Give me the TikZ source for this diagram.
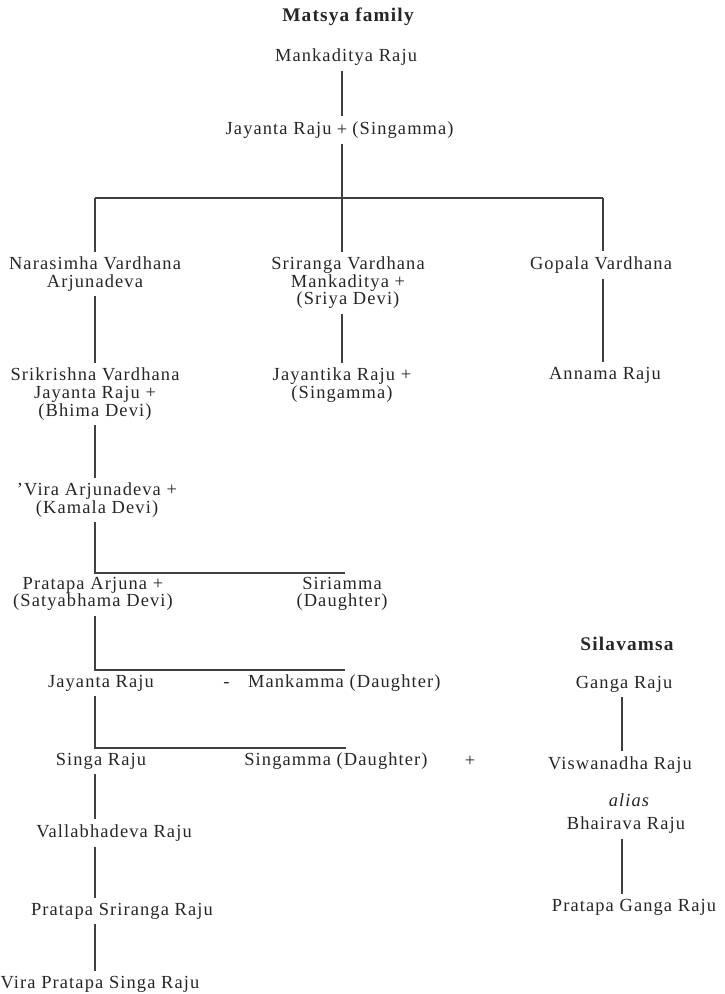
\documentclass[tikz,border=0pt]{standalone}
\usepackage{fontspec}
\setmainfont{Liberation Serif}[LetterSpace=6]
\usetikzlibrary{calc}
\tikzstyle{person}=[inner sep=0pt,outer sep=3pt,align=center,text=black!85,font=\fontsize{10.5}{10}\selectfont]
\tikzstyle{house}=[person,font=\fontsize{11}{12}\selectfont\bfseries]
\tikzstyle{kin}=[line width=0.75pt,black!75]
\newcommand{\drawdescent}[3]{
\draw[kin] (#1.south -| #3) -- (#2.north -| #3);
}

\begin{document}
\begin{tikzpicture}[x=0.02cm,y=-0.02cm]
\useasboundingbox (0,0) rectangle (724,994);
% Matsya family
\node[house] (matsya) at (348,17) {Matsya family};
\node[person] (mank) at (346,57) {Mankaditya Raju};
\node[person,text height=8pt,text depth=2pt] (jay) at (342,130) {+};
\node[person,anchor=east,outer sep=0pt] (jayname) at (jay.west) {Jayanta Raju};
\node[person,anchor=west,outer sep=0pt] (jaywife) at (jay.east) {(Singamma)};
\coordinate (b1l) at (95,198);
\coordinate (trunk) at (342,198);
\coordinate (b1r) at (603,198);
\draw[kin] (mank.south -| jay) -- (jay.north);
\draw[kin] (jay.south) -- (trunk);
\draw[kin] (b1l) -- (b1r);
% three sons
\node[person] (nara) at (95,274) {Narasimha Vardhana\\Arjunadeva};
\node[person] (sri) at (348,283) {Sriranga Vardhana\\Mankaditya +\\(Sriya Devi)};
\node[person] (gop) at (601,265) {Gopala Vardhana};
\draw[kin] (b1l) -- (nara.north -| b1l);
\draw[kin] (trunk) -- (sri.north -| trunk);
\draw[kin] (b1r) -- (gop.north -| b1r);
\node[person] (srik) at (95,394) {Srikrishna Vardhana\\Jayanta Raju +\\(Bhima Devi)};
\node[person] (jayk) at (342,385) {Jayantika Raju +\\(Singamma)};
\node[person] (ann) at (605,375) {Annama Raju};
\drawdescent{nara}{srik}{b1l}
\drawdescent{sri}{jayk}{trunk}
\drawdescent{gop}{ann}{b1r}
% main line
\node[person] (vira) at (97,500) {'Vira Arjunadeva +\\(Kamala Devi)};
\drawdescent{srik}{vira}{b1l}
\coordinate (b2l) at (95,573);
\coordinate (b2r) at (345,573);
\node[person] (prat) at (93,594) {Pratapa Arjuna +\\(Satyabhama Devi)};
\node[person] (siri) at (342,594) {Siriamma\\(Daughter)};
\draw[kin] (vira.south -| b2l) -- (b2l) -- (b2r);
\coordinate (b3l) at (95,670);
\coordinate (b3r) at (345,670);
\node[person] (jayr) at (101,683) {Jayanta Raju};
\node[person] (mankamma) at (332,683) {-\quad Mankamma (Daughter)};
\draw[kin] (prat.south -| b3l) -- (b3l) -- (b3r);
\coordinate (b4l) at (95,748);
\coordinate (b4r) at (346,748);
\node[person] (singa) at (101,761) {Singa Raju};
\node[person] (singamma) at (336,761) {Singamma (Daughter)};
\node[person] (splus) at (470,761) {+};
\draw[kin] (jayr.south -| b4l) -- (b4l) -- (b4r);
\node[person] (vall) at (114,833) {Vallabhadeva Raju};
\node[person] (pss) at (122,911) {Pratapa Sriranga Raju};
\node[person] (vps) at (100,984) {Vira Pratapa Singa Raju};
\drawdescent{singa}{vall}{b4l}
\drawdescent{vall}{pss}{b4l}
\drawdescent{pss}{vps}{b4l}
% Silavamsa
\coordinate (scol) at (622,684);
\node[house] (sila) at (627,644) {Silavamsa};
\node[person] (ganga) at (624,684) {Ganga Raju};
\node[person] (visw) at (620,765) {Viswanadha Raju};
\node[person,font=\fontsize{10.5}{10}\selectfont\itshape] (alias) at (629,800) {alias};
\node[person] (bhai) at (626,825) {Bhairava Raju};
\node[person] (pgr) at (634,907) {Pratapa Ganga Raju};
\drawdescent{ganga}{visw}{scol}
\drawdescent{bhai}{pgr}{scol}
\end{tikzpicture}
\end{document}
